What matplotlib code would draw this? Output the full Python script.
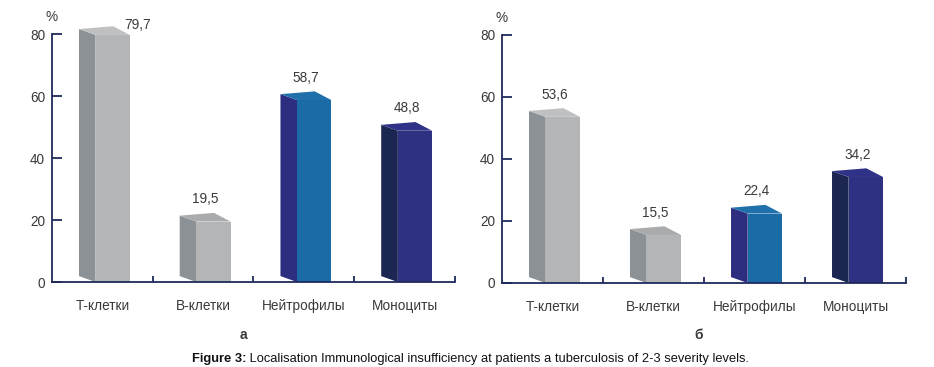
import matplotlib
matplotlib.use('Agg')
import matplotlib.pyplot as plt
from matplotlib.patches import Polygon

plt.rcParams['font.family'] = ['Liberation Sans', 'DejaVu Sans']

# данные
categories = ['Т-клетки', 'В-клетки', 'Нейтрофилы', 'Моноциты']
values_a = [79.7, 19.5, 58.7, 48.8]
values_b = [53.6, 15.5, 22.4, 34.2]
labels_a = ['79,7', '19,5', '58,7', '48,8']
labels_b = ['53,6', '15,5', '22,4', '34,2']
yticks = [0, 20, 40, 60, 80]
panel_names = ['а', 'б']
caption_bold = 'Figure 3:'
caption_rest = ' Localisation Immunological insufficiency at patients a tuberculosis of 2-3 severity levels.'

# цвета: фронт, бок, верх
front_c = ['#b4b5b7', '#b4b5b7', '#1b6ba7', '#2e3082']
side_c = ['#8b9194', '#8b9194', '#2e2e80', '#1c2652']
top_c = ['#bfc0c2', '#a9abad', '#1f70ab', '#2f3286']
axis_c = '#1f2a5a'
text_c = '#3a3a3a'

W = 0.34   # ширина передней грани
D = 0.165  # глубина (влево)
DY = 1.9   # смещение задней грани вверх
FS = 9.8


def draw_panel(ax, values, labels, right_label_first=False):
    for i, v in enumerate(values):
        c = i + 0.52
        x0 = c - (W + D) / 2 + D
        # боковая грань
        ax.add_patch(Polygon([(x0, 0), (x0, v), (x0 - D, v + DY), (x0 - D, DY)],
                             closed=True, fc=side_c[i], ec='none', clip_on=False))
        # верхняя грань
        ax.add_patch(Polygon([(x0, v), (x0 + W, v), (x0 + W - D, v + DY + 0.9),
                              (x0 - D, v + DY)],
                             closed=True, fc=top_c[i], ec='none', clip_on=False))
        ax.bar(x0, v, width=W, align='edge', color=front_c[i], linewidth=0,
               clip_on=False)
        if right_label_first and i == 0:
            ax.text(x0 + W - 0.06, v + 3.2, labels[i], ha='left', va='center',
                    fontsize=FS, color=text_c)
        else:
            ax.text(c, v + 7.2, labels[i], ha='center', va='center',
                    fontsize=FS, color=text_c)

    ax.set_xlim(0, 4)
    ax.set_ylim(0, 88)
    for s in ['top', 'right']:
        ax.spines[s].set_visible(False)
    for s in ['left', 'bottom']:
        ax.spines[s].set_color(axis_c)
        ax.spines[s].set_linewidth(1.3)
    ax.spines['left'].set_bounds(0, 80)
    ax.set_yticks(yticks)
    ax.tick_params(axis='y', direction='in', length=7, width=1.3, color=axis_c,
                   labelsize=FS, labelcolor=text_c, pad=5)
    ax.set_xticks([1, 2, 3, 4])
    ax.set_xticklabels([])
    ax.tick_params(axis='x', which='major', direction='in', length=4, width=1.3,
                   color=axis_c)
    ax.set_xticks([i + 0.5 for i in range(4)], minor=True)
    ax.set_xticklabels(categories, minor=True)
    ax.tick_params(axis='x', which='minor', length=0, labelsize=FS,
                   labelcolor=text_c, pad=12)
    ax.text(0, 85.5, '%', ha='center', va='center', fontsize=FS, color=text_c)


fig = plt.figure(figsize=(9.34, 3.67), dpi=100)
ax1 = fig.add_axes([52 / 934, 1 - 282 / 367, 403 / 934, 272.8 / 367])
ax2 = fig.add_axes([502 / 934, 1 - 283 / 367, 404 / 934, 272.8 / 367])
ax1.patch.set_alpha(0)
ax2.patch.set_alpha(0)

draw_panel(ax1, values_a, labels_a, right_label_first=True)
draw_panel(ax2, values_b, labels_b)

fig.text(243 / 934, 1 - 335 / 367, panel_names[0], ha='center', va='center',
         fontsize=10, weight='bold', color=text_c)
fig.text(699 / 934, 1 - 335 / 367, panel_names[1], ha='center', va='center',
         fontsize=10, weight='bold', color=text_c)

t1 = fig.text(192 / 934, 1 - 362 / 367, caption_bold, ha='left', va='baseline',
              fontsize=9.3, weight='bold', color='#111111')
fig.canvas.draw()
bb = t1.get_window_extent()
fig.text(bb.x1 / fig.bbox.width, 1 - 362 / 367, caption_rest, ha='left',
         va='baseline', fontsize=9.3, color='#111111')

fig.savefig('out.png', dpi=100)
